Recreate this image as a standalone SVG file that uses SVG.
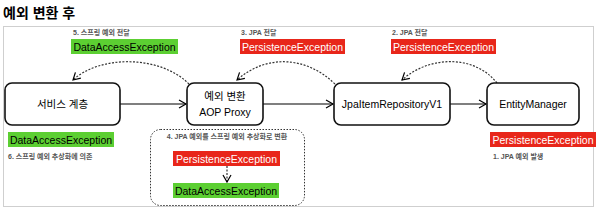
<svg xmlns="http://www.w3.org/2000/svg" width="597" height="208" viewBox="0 0 597 208">
<style>
.t{font-family:"Liberation Sans","Noto Sans CJK KR",Arial,sans-serif;}
.title{font-size:14px;font-weight:bold;fill:#000;}
.node rect{fill:#fff;stroke:#111;stroke-width:1.6;}
.nt{font-size:10.5px;fill:#000;text-anchor:middle;}
.lbl{font-size:7px;font-weight:bold;fill:#555;}
.g{fill:#5ccf32;}
.r{fill:#e8261a;}
.gt{font-size:10.5px;fill:#000;text-anchor:middle;}
.rt{font-size:10.5px;fill:#fff;text-anchor:middle;}
.solid{fill:none;stroke:#000;stroke-width:1.2;}
.dash{fill:none;stroke:#333;stroke-width:1.2;stroke-dasharray:2 1.5;}
</style>
<defs>
<marker id="ah" markerWidth="10" markerHeight="10" refX="8" refY="5" orient="auto" markerUnits="userSpaceOnUse">
<path d="M1,1 L8,5 L1,9" fill="none" stroke="#000" stroke-width="1.2"/>
</marker>
</defs>
<text class="t title" x="3" y="18">예외 변환 후</text>
<rect x="3.5" y="26.5" width="590" height="180" fill="none" stroke="#cfcfcf" stroke-width="1"/>

<g id="connectors">
<line class="solid" x1="120" y1="104" x2="186" y2="104" marker-end="url(#ah)"/>
<line class="solid" x1="263" y1="104" x2="333" y2="104" marker-end="url(#ah)"/>
<line class="solid" x1="450" y1="104" x2="486" y2="104" marker-end="url(#ah)"/>
<path class="dash" d="M189,84 C160,55 100,55 73,80" marker-end="url(#ah)"/>
<path class="dash" d="M335,84 C305,55 265,55 237,80" marker-end="url(#ah)"/>
<path class="dash" d="M497,83 C475,55 430,55 402,80" marker-end="url(#ah)"/>
<line class="dash" x1="227" y1="166" x2="227" y2="182" marker-end="url(#ah)"/>
</g>

<g id="service" class="node">
<rect x="5" y="83" width="115" height="42" rx="7"/>
<text class="t nt" x="62.5" y="108">서비스 계층</text>
</g>
<g id="proxy" class="node">
<rect x="187" y="83" width="76" height="42" rx="7"/>
<text class="t nt" x="225" y="100">예외 변환</text>
<text class="t nt" x="225" y="116">AOP Proxy</text>
</g>
<g id="repo" class="node">
<rect x="334" y="83" width="116" height="42" rx="7"/>
<text class="t nt" x="392" y="108">JpaItemRepositoryV1</text>
</g>
<g id="em" class="node">
<rect x="487" y="83" width="92" height="42" rx="7"/>
<text class="t nt" x="533" y="108">EntityManager</text>
</g>

<g id="label5">
<text class="t lbl" x="73" y="35">5. 스프링 예외 전달</text>
<rect class="g" x="71" y="39" width="107" height="15"/>
<text class="t gt" x="124.5" y="50.5">DataAccessException</text>
</g>
<g id="label3">
<text class="t lbl" x="241" y="35">3. JPA 전달</text>
<rect class="r" x="240" y="39" width="105" height="15"/>
<text class="t rt" x="292.5" y="50.5">PersistenceException</text>
</g>
<g id="label2">
<text class="t lbl" x="392" y="35">2. JPA 전달</text>
<rect class="r" x="391" y="39" width="105" height="15"/>
<text class="t rt" x="443.5" y="50.5">PersistenceException</text>
</g>
<g id="label6">
<rect class="g" x="8" y="132" width="106" height="15"/>
<text class="t gt" x="61" y="143.5">DataAccessException</text>
<text class="t lbl" x="8" y="159">6. 스프링 예외 추상화에 의존</text>
</g>
<g id="convert">
<rect x="150.5" y="129.5" width="154" height="76" rx="10" fill="none" stroke="#333" stroke-width="1" stroke-dasharray="1.5 1.5"/>
<text class="t lbl" x="227" y="139" text-anchor="middle">4. JPA 예외를 스프링 예외 추상화로 변환</text>
<rect class="r" x="173" y="151" width="107" height="15"/>
<text class="t rt" x="226.5" y="162.5">PersistenceException</text>
<rect class="g" x="173" y="183" width="106" height="15"/>
<text class="t gt" x="226" y="194.5">DataAccessException</text>
</g>
<g id="label1">
<rect class="r" x="490" y="132" width="106" height="15"/>
<text class="t rt" x="543" y="143.5">PersistenceException</text>
<text class="t lbl" x="493" y="159">1. JPA 예외 발생</text>
</g>
</svg>
